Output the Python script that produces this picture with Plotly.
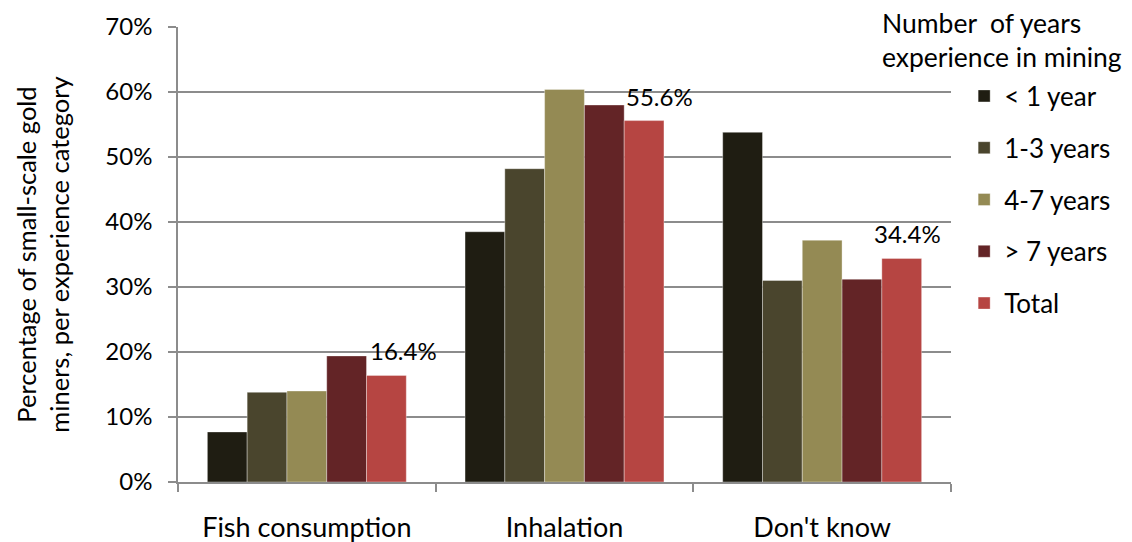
import plotly.graph_objects as go

categories = ["Fish consumption", "Inhalation", "Don't know"]
groups = ["< 1 year", "1-3 years", "4-7 years", "> 7 years", "Total"]
values = {
    "< 1 year":  [7.7, 38.5, 53.8],
    "1-3 years": [13.8, 48.2, 31.0],
    "4-7 years": [14.0, 60.4, 37.2],
    "> 7 years": [19.4, 58.0, 31.2],
    "Total":     [16.4, 55.6, 34.4],
}
colors = ["#1F1D12", "#4A452D", "#948A54", "#632426", "#B64542"]
y_ticks = [0, 10, 20, 30, 40, 50, 60, 70]

FONT = "Lato"
GRID = "#8C8C8C"

fig = go.Figure()
for g, c in zip(groups, colors):
    fig.add_trace(go.Bar(
        name=g, x=categories, y=values[g],
        marker=dict(color=c, line=dict(color="rgba(255,255,255,0.35)", width=1)),
        legendgroup=g,
    ))

# value labels for the Total series, nudged right of the bar centre
label_dx = [17, 15, 6]
bar_offset = 2 * 257.7 * (1 - 0.228) / 5  # centre of the 5th bar relative to group centre
for cat, v, dx in zip(categories, values["Total"], label_dx):
    fig.add_annotation(
        x=cat, y=v, xref="x", yref="y", text=f"{v:.1f}%", showarrow=False,
        xshift=bar_offset + dx, yshift=8, yanchor="bottom",
        font=dict(family=FONT, size=24, color="#000000"),
    )

# legend heading, boxed in white over the top gridline
fig.add_annotation(
    x=0.908, y=0.972, xref="paper", yref="paper", text="Number  of years<br>experience in mining",
    showarrow=False, xanchor="left", yanchor="middle", align="left",
    font=dict(family=FONT, size=26.5, color="#000000"), bgcolor="white",
)

fig.update_layout(
    width=1132, height=542,
    margin=dict(l=178, r=181, t=27, b=60),
    paper_bgcolor="white", plot_bgcolor="white",
    barmode="group", bargap=0.228, bargroupgap=0,
    font=dict(family=FONT, color="#000000"),
    showlegend=True,
    legend=dict(
        x=1.017, y=0.90, xanchor="left", yanchor="top",
        font=dict(family=FONT, size=26, color="#000000"),
        tracegroupgap=15, traceorder="grouped", bgcolor="rgba(0,0,0,0)",
    ),
    xaxis=dict(
        type="category", showgrid=False, showline=True, linecolor=GRID, linewidth=1.5,
        ticks="outside", tickson="boundaries", ticklen=8, tickcolor=GRID, tickwidth=1.5,
        tickfont=dict(family=FONT, size=27), ticklabelstandoff=21, automargin=False,
    ),
    yaxis=dict(
        range=[0, 70], tickvals=y_ticks, ticktext=[f"{t}%" for t in y_ticks],
        showgrid=True, gridcolor=GRID, gridwidth=1.5,
        showline=True, linecolor=GRID, linewidth=1.5,
        ticks="outside", ticklen=8, tickcolor=GRID, tickwidth=1.5,
        tickfont=dict(family=FONT, size=24), ticklabelstandoff=11,
        zeroline=False, automargin=False,
        title=dict(text="Percentage of small-scale gold<br>miners, per experience category",
                   font=dict(family=FONT, size=25.5), standoff=28),
    ),
)

fig.write_html("out.html")
